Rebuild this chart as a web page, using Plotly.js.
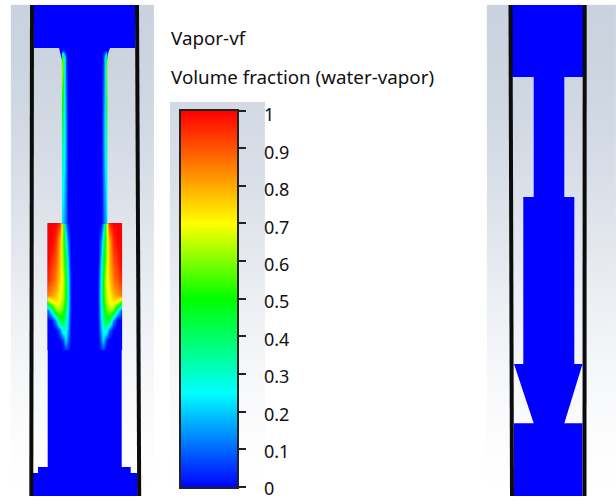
<!DOCTYPE html>
<html><head><meta charset="utf-8">
<script src="https://cdn.plot.ly/plotly-3.0.1.min.js"></script>
<style>html,body{margin:0;padding:0;background:#fff}#c{width:616px;height:497px}</style>
</head><body><div id="c"></div>
<script>
// Colour scale of volume fraction
const volumeScale = [[0,'#0000ff'],[0.25,'#00ffff'],[0.5,'#00ff00'],[0.7,'#ffff00'],[1,'#ff0000']];
const backdropScale = [[0,'#ffffff'],[0.5,'#e4e8ee'],[1,'#c9d2de']];
const colorbarLevels = [0,0.1,0.2,0.3,0.4,0.5,0.6,0.7,0.8,0.9,1];
const colorbarTicks = [0,0.1,0.2,0.3,0.4,0.5,0.6,0.7,0.8,0.9,1];
const colorbarLabels = ['0','0.1','0.2','0.3','0.4','0.5','0.6','0.7','0.8','0.9','1'];

// Backdrop gradient levels by height
const backdropY = [5,5.2,60,120,180,250,320,390,440,495.8,496];
const backdropLevel = [1,1,0.95,0.85,0.7,0.5,0.3,0.14,0.05,0,0];
const leftPanelX = [11,11.2,153.8,154];
const legendPanelY = [102,102.2,120,180,250,320,390,440,495.8,496];
const legendPanelLevel = [0.82,0.82,0.8,0.7,0.5,0.3,0.14,0.05,0,0];
const legendPanelX = [170,170.2,264.8,265];
const rightPanelX = [487,487.2,615.8,616];

// Left geometry
const leftBlueX = [34,135.5,135,110,108.5,107,107,121.7,121.7,130.7,130.7,137.5,137.5,33,33,38,38,47.7,47.7,62,62,60.5,59,34];
const leftBlueY = [5,5,48,48,52,60,223.3,223.3,467,467,473,473,496,496,473,473,467,467,223.3,223.3,60,52,48,48];
const leftWallAX = [32,31.3], leftWallAY = [5,496];
const leftWallBX = [137,139.2], leftWallBY = [5,496];

// Right geometry
const rightBlueX = [512,583,583,564.3,564.3,574.3,574.3,582.5,564.3,582.5,582.5,514,514,533.7,514,514,523.3,523.3,533.7,533.7,512];
const rightBlueY = [5,5,77,77,197,197,364,364,423.3,423.3,496,496,423.3,423.3,364,364,364,197,197,77,77];
const rightWallAX = [510.5,512], rightWallAY = [5,496];
const rightWallBX = [584.7,584.5], rightWallBY = [5,496];

// Vapour in the lower annular cavity (left half, outer wall to jet)
const cavityLeftX = [47.7,48,52,56,60,63,66,68,71,71.2];
const cavityRightX = [98.2,98.4,101.4,103.4,106.4,109.4,113.4,117.4,121.4,121.7];
const cavityY = [223.3,223.6,240,260,280,295,302,310,320,330,340,350,350.3];
const cavityZ = [
 [1,1,1,1,.95,.62,.15,.02,0,0],
 [1,1,1,1,.95,.62,.15,.02,0,0],
 [1,1,1,.95,.8,.6,.32,.12,0,0],
 [1,1,.95,.9,.78,.62,.45,.22,0,0],
 [.95,.95,.9,.85,.75,.68,.5,.28,.03,0],
 [.85,.85,.82,.78,.7,.65,.5,.3,.03,0],
 [.55,.55,.68,.72,.7,.62,.48,.28,.03,0],
 [.1,.1,.3,.6,.62,.55,.4,.25,.03,0],
 [0,0,0,.15,.45,.45,.35,.22,.02,0],
 [0,0,0,0,.1,.3,.28,.18,.01,0],
 [0,0,0,0,0,.05,.22,.12,0,0],
 [0,0,0,0,0,0,.05,.04,0,0],
 [0,0,0,0,0,0,0,0,0,0]
];

// Vapour film along the neck (left edge, outer to inner)
const filmLeftX = [62,62.2,63,64,65.5,67.5,67.7];
const filmRightX = [101.5,101.7,103.5,105,106,106.8,107];
const filmY = [50,50.3,58,70,90,120,150,190,222,223.3];
const filmZ = [
 [0,0,0,0,0,0,0],
 [0,0,0,0,0,0,0],
 [.5,.5,.58,.35,.06,0,0],
 [.6,.6,.55,.32,.08,0,0],
 [.55,.55,.5,.3,.1,0,0],
 [.42,.42,.4,.3,.13,0,0],
 [.33,.33,.32,.27,.14,0,0],
 [.26,.26,.25,.21,.12,0,0],
 [.22,.22,.2,.17,.1,0,0],
 [.22,.22,.2,.17,.1,0,0]
];

const rev = m => m.map(r => r.slice().reverse());
function backdrop(x,y,levels){return {type:'heatmap',x:x,y:y,z:levels.map(v=>[v,v,v,v]),colorscale:backdropScale,zmin:0,zmax:1,showscale:false,zsmooth:'best',hoverinfo:'skip'};}
function field(x,y,z){return {type:'heatmap',xaxis:'x3',yaxis:'y3',x:x,y:y,z:z,colorscale:volumeScale,zmin:0,zmax:1,showscale:false,zsmooth:'best',hoverinfo:'skip'};}
function blue(x,y){return {type:'scatter',mode:'lines',x:x,y:y,fill:'toself',fillcolor:'#0000ff',line:{width:0,color:'#0000ff'},hoverinfo:'skip'};}
function wall(x,y){return {type:'scatter',mode:'lines',x:x,y:y,line:{color:'#0c0c0c',width:4},hoverinfo:'skip'};}

const traces = [
 backdrop(leftPanelX,backdropY,backdropLevel), backdrop(legendPanelX,legendPanelY,legendPanelLevel), backdrop(rightPanelX,backdropY,backdropLevel),
 blue(leftBlueX,leftBlueY), blue(rightBlueX,rightBlueY),
 wall(leftWallAX,leftWallAY), wall(leftWallBX,leftWallBY),
 wall(rightWallAX,rightWallAY), wall(rightWallBX,rightWallBY),
 field(cavityLeftX,cavityY,cavityZ), field(cavityRightX,cavityY,rev(cavityZ)),
 field(filmLeftX,filmY,filmZ), field(filmRightX,filmY,rev(filmZ)),
 {type:'heatmap',xaxis:'x2',yaxis:'y2',x:[0,1],y:colorbarLevels,z:colorbarLevels.map(v=>[v,v]),
  colorscale:volumeScale,zmin:0,zmax:1,showscale:false,zsmooth:'best',hoverinfo:'skip'},
 {type:'scatter',mode:'markers',xaxis:'x2',yaxis:'y4',x:[0.5],y:[0.5],marker:{opacity:0},hoverinfo:'skip'}
];

const W=616,H=497;
const layout = {
 width:W,height:H,margin:{l:0,r:0,t:0,b:0},paper_bgcolor:'#fff',plot_bgcolor:'rgba(0,0,0,0)',showlegend:false,
 font:{family:'"Noto Sans", sans-serif',color:'#111',size:16},
 xaxis:{domain:[0,1],range:[0,W],visible:false,fixedrange:true},
 yaxis:{domain:[0,1],range:[H,0],visible:false,fixedrange:true},
 xaxis3:{overlaying:'x',range:[0,W],visible:false,fixedrange:true},
 yaxis3:{overlaying:'y',range:[H,0],visible:false,fixedrange:true},
 xaxis2:{domain:[181/W,237/W],range:[0,1],anchor:'y2',showticklabels:false,ticks:'',showgrid:false,zeroline:false,showline:true,mirror:true,linecolor:'#222',linewidth:2,fixedrange:true},
 yaxis2:{domain:[1-487/H,1-110.5/H],range:[0,1],anchor:'x2',side:'right',tickvals:colorbarTicks,showticklabels:false,ticks:'outside',ticklen:7,tickwidth:2,tickcolor:'#222',showgrid:false,zeroline:false,showline:true,mirror:true,linecolor:'#222',linewidth:2,fixedrange:true},
 yaxis4:{domain:[1-492.74/H,1-111.26/H],range:[-0.01,1.01],anchor:'x2',side:'right',tickvals:colorbarTicks,ticktext:colorbarLabels,ticks:'',ticklabelstandoff:26,ticklabeloverflow:'allow',tickfont:{size:18,color:'#111'},showgrid:false,zeroline:false,showline:false,fixedrange:true},
 annotations:[
  {xref:'x',yref:'y',x:169,y:38,text:'Vapor-vf',showarrow:false,xanchor:'left',yanchor:'middle',font:{size:18.8,color:'#111'}},
  {xref:'x',yref:'y',x:169,y:77,text:'Volume fraction (water-vapor)',showarrow:false,xanchor:'left',yanchor:'middle',font:{size:18.8,color:'#111'}}
 ]
};
Plotly.newPlot('c',traces,layout,{staticPlot:true,displayModeBar:false});
</script></body></html>
